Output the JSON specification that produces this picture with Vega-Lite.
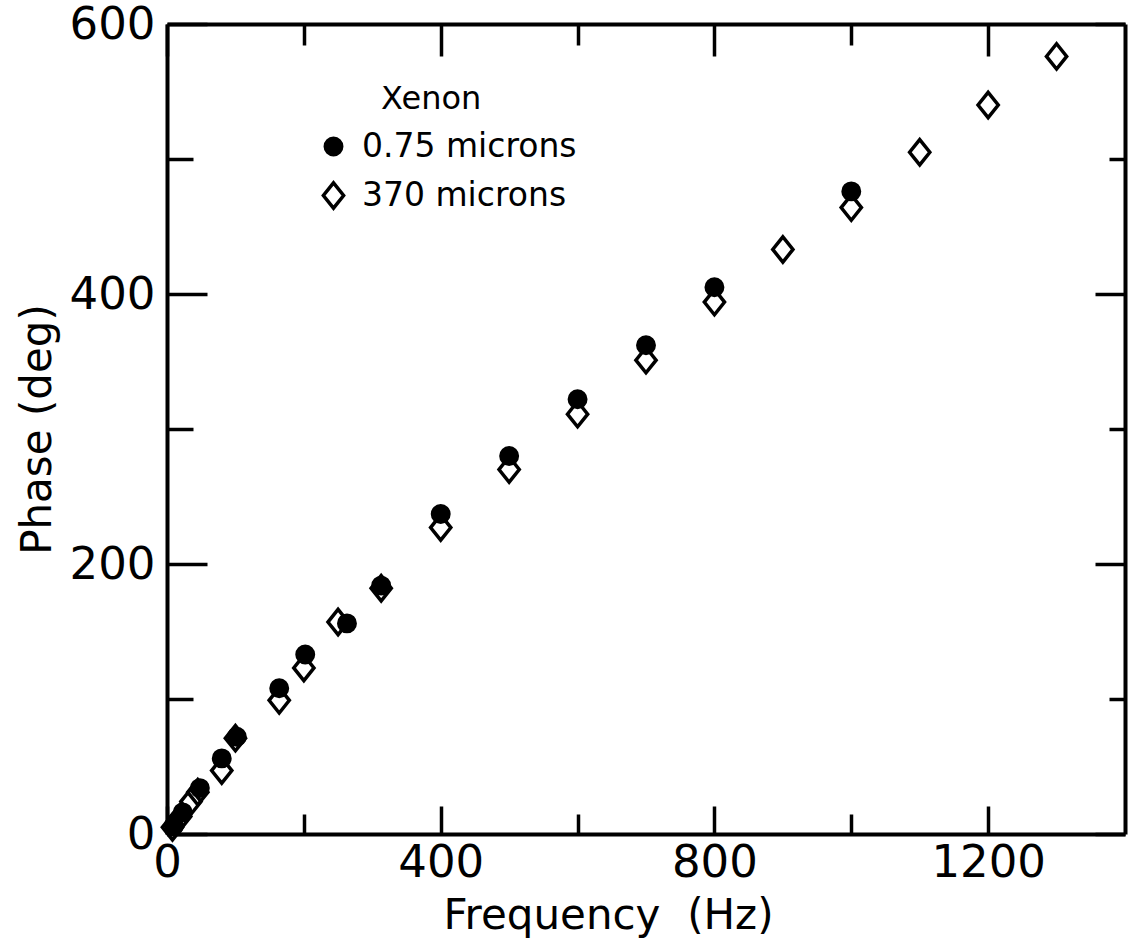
{
  "$schema": "https://vega.github.io/schema/vega-lite/v6.json",
  "width": 958,
  "height": 810,
  "autosize": "none",
  "padding": {"left": 167, "top": 24, "right": 3, "bottom": 109},
  "background": "white",
  "config": {
    "view": {"stroke": null},
    "font": "DejaVu Sans",
    "axis": {
      "domainColor": "black", "domainWidth": 4, "tickColor": "black", "tickWidth": 3.5,
      "labelColor": "black", "titleColor": "black", "labelFont": "DejaVu Sans", "titleFont": "DejaVu Sans",
      "grid": false, "labelOverlap": false, "labelFlush": false, "titleFontWeight": "normal"
    },
    "legend": {
      "orient": "none", "legendX": 150, "legendY": 60,
      "labelFont": "DejaVu Sans", "labelFontSize": 33, "labelColor": "black", "labelLimit": 0,
      "titleFont": "DejaVu Sans", "titleFontSize": 32, "titleFontWeight": "normal", "titleColor": "black",
      "titlePadding": 14, "rowPadding": 11, "symbolStrokeWidth": 3.5, "symbolStrokeColor": "black",
      "labelOffset": 12, "symbolOpacity": 1
    }
  },
  "data": {
    "values": [
      {"series": "370 microns", "freq": 8, "phase": 5},
      {"series": "370 microns", "freq": 20, "phase": 13},
      {"series": "370 microns", "freq": 35, "phase": 24},
      {"series": "370 microns", "freq": 45, "phase": 31},
      {"series": "370 microns", "freq": 80, "phase": 47},
      {"series": "370 microns", "freq": 100, "phase": 71},
      {"series": "370 microns", "freq": 164, "phase": 99},
      {"series": "370 microns", "freq": 200, "phase": 123},
      {"series": "370 microns", "freq": 250, "phase": 157},
      {"series": "370 microns", "freq": 313, "phase": 182},
      {"series": "370 microns", "freq": 400, "phase": 227},
      {"series": "370 microns", "freq": 500, "phase": 270},
      {"series": "370 microns", "freq": 600, "phase": 311},
      {"series": "370 microns", "freq": 700, "phase": 351},
      {"series": "370 microns", "freq": 800, "phase": 394},
      {"series": "370 microns", "freq": 900, "phase": 433},
      {"series": "370 microns", "freq": 1000, "phase": 464},
      {"series": "370 microns", "freq": 1100, "phase": 505},
      {"series": "370 microns", "freq": 1200, "phase": 540},
      {"series": "370 microns", "freq": 1300, "phase": 576},
      {"series": "0.75 microns", "freq": 10, "phase": 6},
      {"series": "0.75 microns", "freq": 23, "phase": 16},
      {"series": "0.75 microns", "freq": 48, "phase": 34},
      {"series": "0.75 microns", "freq": 80, "phase": 56},
      {"series": "0.75 microns", "freq": 102, "phase": 72},
      {"series": "0.75 microns", "freq": 164, "phase": 108},
      {"series": "0.75 microns", "freq": 202, "phase": 133},
      {"series": "0.75 microns", "freq": 263, "phase": 156},
      {"series": "0.75 microns", "freq": 313, "phase": 184},
      {"series": "0.75 microns", "freq": 400, "phase": 237},
      {"series": "0.75 microns", "freq": 500, "phase": 280},
      {"series": "0.75 microns", "freq": 600, "phase": 322},
      {"series": "0.75 microns", "freq": 700, "phase": 362},
      {"series": "0.75 microns", "freq": 800, "phase": 405},
      {"series": "0.75 microns", "freq": 1000, "phase": 476}
    ]
  },
  "layer": [
    {
      "mark": {"type": "point", "stroke": "black", "strokeWidth": 3.5, "opacity": 1},
      "encoding": {
        "x": {
          "field": "freq", "type": "quantitative",
          "scale": {"domain": [0, 1400], "nice": false, "zero": false},
          "axis": {
            "orient": "bottom",
            "values": [0, 200, 400, 600, 800, 1000, 1200],
            "format": "d",
            "labelExpr": "datum.value % 400 === 0 ? datum.label : ''",
            "tickSize": {"condition": {"test": "datum.value % 400 === 0", "value": -28}, "value": -20},
            "labelFontSize": 45, "labelPadding": 34,
            "title": "Frequency\u00a0\u00a0(Hz)", "titleFontSize": 42,
            "titleX": 441, "titleY": 94, "titleBaseline": "alphabetic", "titleAlign": "center"
          }
        },
        "y": {
          "field": "phase", "type": "quantitative",
          "scale": {"domain": [0, 600], "nice": false, "zero": false},
          "axis": {
            "orient": "left",
            "values": [0, 100, 200, 300, 400, 500, 600],
            "format": "d",
            "labelExpr": "datum.value % 200 === 0 ? datum.label : ''",
            "tickSize": {"condition": {"test": "datum.value % 200 === 0", "value": -40}, "value": -26},
            "labelFontSize": 45, "labelPadding": 52,
            "title": "Phase (deg)", "titleFontSize": 42, "titlePadding": 10
          }
        },
        "shape": {
          "field": "series", "type": "nominal",
          "scale": {"domain": ["0.75 microns", "370 microns"], "range": ["circle", "M0,-1L0.8,0L0,1L-0.8,0Z"]},
          "legend": {"title": "Xenon", "encode": {"title": {"update": {"dx": {"value": 64}}}, "symbols": {"update": {"stroke": {"value": "black"}, "strokeWidth": {"value": 3.5}}}}}
        },
        "fill": {
          "field": "series", "type": "nominal",
          "scale": {"domain": ["0.75 microns", "370 microns"], "range": ["black", "transparent"]},
          "legend": {"title": "Xenon", "encode": {"title": {"update": {"dx": {"value": 64}}}, "symbols": {"update": {"stroke": {"value": "black"}, "strokeWidth": {"value": 3.5}}}}}
        },
        "size": {
          "field": "series", "type": "nominal",
          "scale": {"domain": ["0.75 microns", "370 microns"], "range": [270, 640]},
          "legend": {"title": "Xenon", "encode": {"title": {"update": {"dx": {"value": 64}}}, "symbols": {"update": {"stroke": {"value": "black"}, "strokeWidth": {"value": 3.5}}}}}
        }
      }
    },
    {
      "mark": {"type": "point", "opacity": 0},
      "encoding": {
        "x": {
          "field": "freq", "type": "quantitative",
          "axis": {
            "orient": "top", "labels": false, "title": null,
            "values": [0, 200, 400, 600, 800, 1000, 1200],
            "tickSize": {"condition": {"test": "datum.value % 400 === 0", "value": -32}, "value": -21}
          }
        },
        "y": {
          "field": "phase", "type": "quantitative",
          "axis": {
            "orient": "right", "labels": false, "title": null,
            "values": [0, 100, 200, 300, 400, 500, 600],
            "tickSize": {"condition": {"test": "datum.value % 200 === 0", "value": -30}, "value": -16}
          }
        }
      }
    }
  ],
  "resolve": {"axis": {"x": "independent", "y": "independent"}}
}
